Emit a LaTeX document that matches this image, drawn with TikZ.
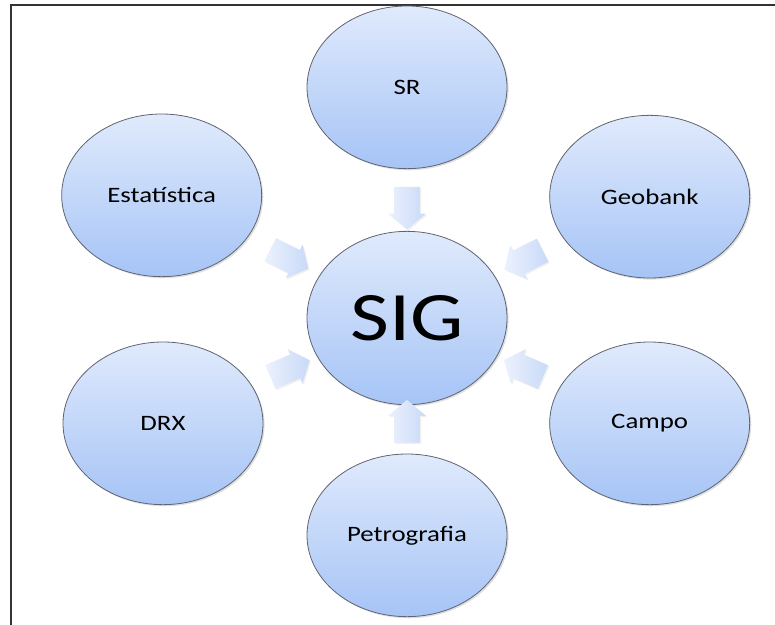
\documentclass[tikz,border=0pt]{standalone}
\usepackage{fontspec}
\setmainfont{Carlito}[FakeStretch=1.22]
\usetikzlibrary{positioning,calc,shapes.geometric,shapes.arrows,shadows}

\definecolor{ballTop}{RGB}{224,234,252}
\definecolor{ballBot}{RGB}{166,196,246}
\definecolor{ballEdge}{RGB}{95,100,112}
\definecolor{flowLight}{RGB}{236,242,253}
\definecolor{flowDark}{RGB}{200,217,248}

\tikzset{
  ball/.style={ellipse, draw=ballEdge, line width=0.6pt,
    top color=ballTop, bottom color=ballBot,
    minimum width=150pt, minimum height=122pt, inner sep=0pt,
    font=\fontsize{16.5}{19}\selectfont,
    drop shadow={opacity=0.25, shadow xshift=1.2pt, shadow yshift=-1.2pt}},
  hub/.style={ball, minimum height=130pt, font=\fontsize{52}{60}\selectfont},
  flow/.style={single arrow, draw=none, left color=flowLight, right color=flowDark,
    minimum height=32pt, inner sep=9.5pt,
    single arrow head extend=4.5pt, single arrow tip angle=100,
    drop shadow={opacity=0.12, shadow xshift=1pt, shadow yshift=-1pt}}
}

\begin{document}
\begin{tikzpicture}[x=0.75pt,y=-0.75pt,on grid]
   \useasboundingbox (0,0) rectangle (775,625);
   % frame
   \draw[line width=1.1pt, black!80] (11,625) -- (11,5) -- (775,5);

   \node[hub] (SIG) at (407,318) {SIG};
   \node[ball] (SR)  [above=173pt of SIG] {SR};
   \node[ball] (Pet) [below=163pt of SIG] {Petrografia};
   \node[ball] (Est) [above left=92pt and 184pt of SIG] {Estatística};
   \node[ball] (Geo) [above right=91pt and 182pt of SIG] {Geobank};
   \node[ball] (DRX) [below left=79pt and 183pt of SIG] {DRX};
   \node[ball] (Cam) [below right=79pt and 182pt of SIG] {Campo};

   % block arrows into the hub
   \node[flow, rotate=-90]    (fSR)  at ($(SR)!0.5!(SIG)$)  {};
   \node[flow, rotate=90]     (fPet) at ($(Pet)!0.5!(SIG)$) {};
   \node[flow, rotate=-26.7]  (fEst) at ($(Est)!0.5!(SIG)$) {};
   \node[flow, rotate=-153.3] (fGeo) at ($(Geo)!0.5!(SIG)$) {};
   \node[flow, rotate=23]     (fDRX) at ($(DRX)!0.5!(SIG)$) {};
   \node[flow, rotate=156.5]  (fCam) at ($(Cam)!0.5!(SIG)$) {};
\end{tikzpicture}
\end{document}
